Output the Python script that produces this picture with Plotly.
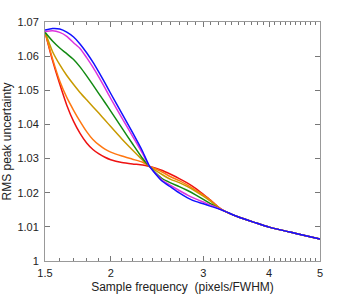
import plotly.graph_objects as go

# Sample frequencies (pixels/FWHM) where the curves were read
freq = [1.5, 1.55, 1.6, 1.65, 1.7, 1.75, 1.8, 1.85, 1.9, 1.95, 2.0, 2.1, 2.2, 2.3, 2.37,
        2.5, 2.6, 2.7, 2.8, 2.9, 3.0, 3.1, 3.2]

# Common tail shared by all curves
tail_x = [3.3, 3.5, 3.75, 4.0, 4.5, 5.0]
tail_y = [1.01452, 1.01287, 1.01131, 1.00993, 1.00808, 1.00646]

red_y = [1.06711, 1.05875, 1.05182, 1.04565, 1.04089, 1.03731, 1.03458, 1.03267, 1.03137, 1.03038,
         1.02967, 1.02885, 1.02844, 1.02814, 1.02767,
         1.02659, 1.02541, 1.02415, 1.02283, 1.02130, 1.01954, 1.01777, 1.01586]

orange_y = [1.06711, 1.05928, 1.05273, 1.04791, 1.04415, 1.04083, 1.03790, 1.03558, 1.03399, 1.03276,
            1.03190, 1.03073, 1.02982, 1.02894, 1.02776,
            1.02615, 1.02468, 1.02356, 1.02221, 1.02074, 1.01933, 1.01766, 1.01578]

olive_y = [1.06711, 1.06137, 1.05749, 1.05432, 1.05170, 1.04930, 1.04721, 1.04521, 1.04324, 1.04130,
           1.03937, 1.03575, 1.03252, 1.02955, 1.02767,
           1.02541, 1.02391, 1.02297, 1.02177, 1.02042, 1.01898, 1.01742, 1.01572]

green_y = [1.06698, 1.06442, 1.06237, 1.06072, 1.05902, 1.05679, 1.05423, 1.05159, 1.04894, 1.04642,
           1.04389, 1.03898, 1.03434, 1.03002, 1.02767,
           1.02424, 1.02288, 1.02180, 1.02065, 1.01939, 1.01807, 1.01675, 1.01548]

magenta_y = [1.06719, 1.06742, 1.06695, 1.06581, 1.06392, 1.06219, 1.05958, 1.05676, 1.05376, 1.05068,
             1.04759, 1.04195, 1.03660, 1.03143, 1.02770,
             1.02380, 1.02215, 1.02065, 1.01930, 1.01821, 1.01727, 1.01636, 1.01548]

blue_y = [1.06763, 1.06810, 1.06795, 1.06704, 1.06560, 1.06351, 1.06099, 1.05823, 1.05523, 1.05214,
          1.04906, 1.04321, 1.03766, 1.03208, 1.02780,
          1.02350, 1.02168, 1.01995, 1.01851, 1.01745, 1.01675, 1.01601, 1.01533]

x_tick_vals = [1.5, 2, 3, 4, 5]
x_tick_text = ["1.5", "2", "3", "4", "5"]
x_minor_vals = [1.6, 1.7, 1.8, 1.9] + [round(2 + 0.1 * i, 1) for i in range(1, 10)] + \
               [round(3 + 0.1 * i, 1) for i in range(1, 10)] + [round(4 + 0.1 * i, 1) for i in range(1, 10)]
y_tick_vals = [1.0, 1.01, 1.02, 1.03, 1.04, 1.05, 1.06, 1.07]
y_tick_text = ["1", "1.01", "1.02", "1.03", "1.04", "1.05", "1.06", "1.07"]

series = [
    (red_y, "#ee1111"),
    (orange_y, "#ff7711"),
    (olive_y, "#c89a00"),
    (green_y, "#128a12"),
    (magenta_y, "#dd33dd"),
    (blue_y, "#1111ff"),
]

fig = go.Figure()
for ys, c in series:
    fig.add_trace(go.Scatter(x=freq + tail_x, y=ys + tail_y, mode="lines",
                             line=dict(color=c, width=1.5, shape="spline", smoothing=0.6),
                             showlegend=False, hoverinfo="skip"))

font_family = "Liberation Sans, Arial, sans-serif"
axis_common = dict(showgrid=False, zeroline=False, showline=True, linecolor="#999999", linewidth=1,
                   mirror="ticks", ticks="inside", tickcolor="#777777", ticklen=5, tickwidth=1,
                   automargin=False,
                   tickfont=dict(family=font_family, size=11, color="#222222"))

fig.update_layout(
    width=353, height=294,
    margin=dict(l=45, r=33, t=22, b=33),
    paper_bgcolor="white", plot_bgcolor="white",
    xaxis=dict(type="log", range=[0.176091, 0.69897], tickmode="array",
               tickvals=x_tick_vals, ticktext=x_tick_text, ticklabelstandoff=2,
               minor=dict(tickmode="array", tickvals=x_minor_vals, ticks="inside", ticklen=3,
                          tickcolor="#777777", showgrid=False),
               title=dict(text="Sample frequency  (pixels/FWHM)", standoff=4,
                          font=dict(family=font_family, size=12, color="#222222")),
               **axis_common),
    yaxis=dict(range=[1.0, 1.07], tickmode="array", tickvals=y_tick_vals, ticktext=y_tick_text,
               ticklabelstandoff=3,
               title=dict(text="RMS peak uncertainty", standoff=3,
                          font=dict(family=font_family, size=12, color="#222222")),
               **axis_common),
)

fig.write_html("out.html", config={"displayModeBar": False, "staticPlot": True},
               post_script="document.body.style.margin='0';")
